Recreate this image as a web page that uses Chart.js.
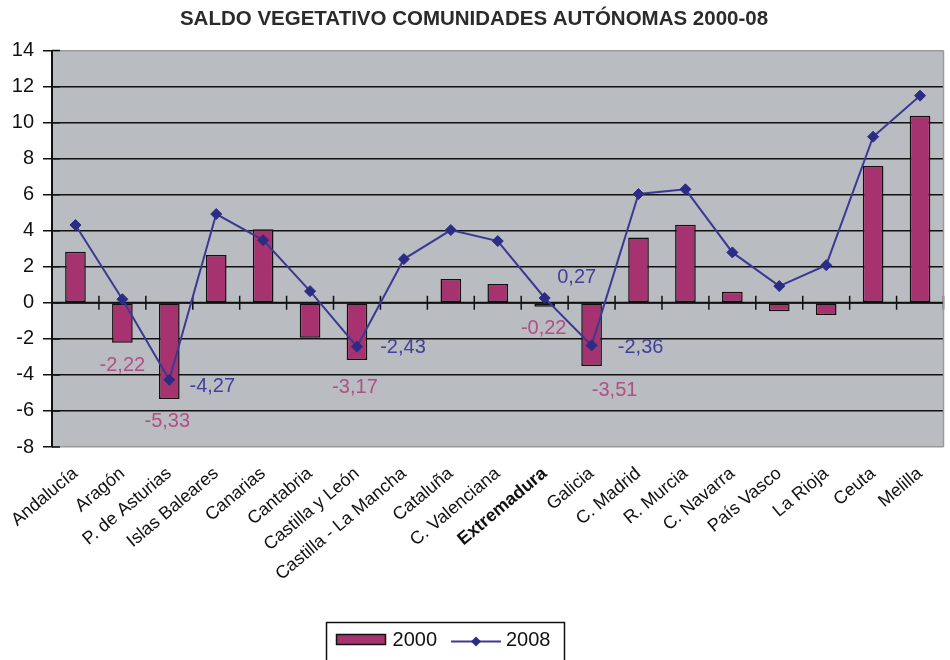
<!DOCTYPE html>
<html>
<head>
<meta charset="utf-8">
<title>Saldo vegetativo CCAA 2000-08</title>
<script src="https://cdn.jsdelivr.net/npm/chart.js@4.4.0/dist/chart.umd.min.js"></script>
<style>
  body { margin: 0; background: #fff; }
  canvas { display: block; }
</style>
</head>
<body>
<canvas id="saldo" width="950" height="660"></canvas>
<script>
// Data
const regions = ['Andalucía', 'Aragón', 'P. de Asturias', 'Islas Baleares', 'Canarias', 'Cantabria',
  'Castilla y León', 'Castilla - La Mancha', 'Cataluña', 'C. Valenciana', 'Extremadura', 'Galicia',
  'C. Madrid', 'R. Murcia', 'C. Navarra', 'País Vasco', 'La Rioja', 'Ceuta', 'Melilla'];
const values2000 = [2.83, -2.22, -5.33, 2.65, 4.09, -1.94, -3.17, 0, 1.32, 1.04, -0.22, -3.51,
  3.63, 4.33, 0.61, -0.46, -0.68, 7.59, 10.39];
const values2008 = [4.32, 0.2, -4.27, 4.93, 3.48, 0.65, -2.43, 2.43, 4.04, 3.43, 0.27, -2.36,
  6.04, 6.3, 2.8, 0.93, 2.09, 9.22, 11.5];
const seriesNames = ['2000', '2008'];
const yMin = -8;
const yMax = 14;
const yStep = 2;
const boldRegion = 'Extremadura';

const sans = '"Liberation Sans", Arial, sans-serif';
const narrow = '"Liberation Sans Narrow", "Arial Narrow", "Liberation Sans", sans-serif';

const barColor = '#a6336f';
const lineColor = '#3a3a93';

// grey plot background + grey right border
const plotBackground = {
  id: 'plotBackground',
  beforeDraw(chart) {
    const { ctx, chartArea: a } = chart;
    ctx.save();
    ctx.fillStyle = '#b9bcc0';
    ctx.fillRect(a.left, a.top, a.right - a.left, a.bottom - a.top);
    ctx.restore();
  },
  afterDraw(chart) {
    const { ctx, chartArea: a } = chart;
    ctx.save();
    ctx.strokeStyle = '#9a9a9a';
    ctx.lineWidth = 1.5;
    ctx.beginPath();
    ctx.moveTo(a.right, a.top);
    ctx.lineTo(a.right, a.bottom);
    ctx.stroke();
    ctx.restore();
  }
};

// zero line with cross ticks between categories, and inner y ticks
const zeroAxis = {
  id: 'zeroAxis',
  beforeDatasetsDraw(chart) {
    const { ctx, chartArea: a, scales } = chart;
    const x = scales.x, y = scales.y;
    const y0 = y.getPixelForValue(0);
    ctx.save();
    ctx.strokeStyle = '#111';
    ctx.lineWidth = 2;
    ctx.beginPath();
    ctx.moveTo(a.left, y0);
    ctx.lineTo(a.right, y0);
    ctx.stroke();
    ctx.lineWidth = 1.5;
    ctx.beginPath();
    for (let i = 1; i <= regions.length; i++) {
      const bx = (x.getPixelForValue(i - 1) + x.getPixelForValue(i)) / 2;
      const px = i === regions.length ? a.right : bx;
      ctx.moveTo(px, y0 - 7);
      ctx.lineTo(px, y0 + 7);
    }
    y.ticks.forEach((t) => {
      const py = y.getPixelForValue(t.value);
      ctx.moveTo(a.left, py);
      ctx.lineTo(a.left + 8, py);
    });
    ctx.stroke();
    ctx.restore();
  }
};

// value labels for a few points only
const valueLabels = {
  id: 'valueLabels',
  afterDatasetsDraw(chart, args, opts) {
    const ctx = chart.ctx;
    ctx.save();
    ctx.font = '20px ' + sans;
    ctx.textAlign = 'center';
    ctx.textBaseline = 'middle';
    opts.sets.forEach((set, di) => {
      const meta = chart.getDatasetMeta(di);
      const data = chart.data.datasets[di].data;
      ctx.fillStyle = set.color;
      Object.keys(set.place).forEach((k) => {
        const el = meta.data[k];
        const [dx, dy] = set.place[k];
        const txt = data[k].toFixed(2).replace('.', ',');
        ctx.fillText(txt, el.x + dx, el.y + dy);
      });
    });
    ctx.restore();
  }
};

// boxed legend at the bottom
const boxLegend = {
  id: 'boxLegend',
  afterDraw(chart, args, opts) {
    const ctx = chart.ctx;
    const [bar, line] = chart.data.datasets;
    ctx.save();
    ctx.font = '20px ' + sans;
    const w1 = ctx.measureText(bar.label).width;
    const w2 = ctx.measureText(line.label).width;
    const total = 10 + 49 + 7 + w1 + 14 + 50 + 5 + w2 + 14;
    let x = opts.centerX - total / 2;
    const top = opts.top;
    const mid = top + 17;
    ctx.strokeStyle = '#111';
    ctx.lineWidth = 1.5;
    ctx.strokeRect(x, top, total, 60);
    x += 10;
    ctx.fillStyle = bar.backgroundColor;
    ctx.fillRect(x, mid - 5, 49, 10);
    ctx.strokeRect(x, mid - 5, 49, 10);
    x += 49 + 7;
    ctx.fillStyle = '#111';
    ctx.textBaseline = 'middle';
    ctx.fillText(bar.label, x, mid + 1);
    x += w1 + 14;
    ctx.strokeStyle = line.borderColor;
    ctx.lineWidth = 2;
    ctx.beginPath();
    ctx.moveTo(x, mid + 2);
    ctx.lineTo(x + 50, mid + 2);
    ctx.stroke();
    ctx.fillStyle = line.pointBackgroundColor;
    ctx.beginPath();
    ctx.moveTo(x + 25, mid + 2 - 5);
    ctx.lineTo(x + 30, mid + 2);
    ctx.lineTo(x + 25, mid + 2 + 5);
    ctx.lineTo(x + 20, mid + 2);
    ctx.closePath();
    ctx.fill();
    x += 50 + 5;
    ctx.fillStyle = '#111';
    ctx.fillText(line.label, x, mid + 1);
    ctx.restore();
  }
};

new Chart(document.querySelector('#saldo'), {
  data: {
    labels: regions,
    datasets: [
      {
        type: 'bar',
        label: seriesNames[0],
        data: values2000,
        backgroundColor: barColor,
        borderColor: '#111',
        borderWidth: 1.5,
        borderSkipped: false,
        barPercentage: 0.44,
        categoryPercentage: 1,
        order: 2
      },
      {
        type: 'line',
        label: seriesNames[1],
        data: values2008,
        borderColor: lineColor,
        borderWidth: 2,
        tension: 0,
        pointStyle: 'rectRot',
        pointRadius: 5.5,
        pointBackgroundColor: '#2c2c84',
        pointBorderColor: '#2c2c84',
        pointBorderWidth: 1,
        order: 1
      }
    ]
  },
  options: {
    responsive: false,
    animation: false,
    devicePixelRatio: 1,
    layout: { padding: { left: 0, right: 2, top: 0, bottom: 0 } },
    scales: {
      x: {
        offset: true,
        grid: { display: false },
        border: { display: false },
        ticks: {
          autoSkip: false,
          minRotation: 40,
          maxRotation: 40,
          padding: 8,
          color: '#111',
          font: (c) => ({
            family: narrow,
            size: 18,
            weight: c.tick && c.tick.label === boldRegion ? 'bold' : 'normal'
          })
        },
        afterFit: (s) => { s.height = 213; }
      },
      y: {
        min: yMin,
        max: yMax,
        border: { display: true, color: '#111', width: 2 },
        grid: {
          color: (c) => (c.tick.value === yMin || c.tick.value === yMax) ? '#9a9a9a' : '#111',
          tickColor: '#111',
          lineWidth: 1.5,
          tickLength: 9
        },
        ticks: {
          stepSize: yStep,
          padding: 9,
          color: '#111',
          font: { family: sans, size: 20 }
        },
        afterFit: (s) => { s.width = 52; }
      }
    },
    plugins: {
      legend: { display: false },
      tooltip: { enabled: false },
      title: {
        display: true,
        text: 'SALDO VEGETATIVO COMUNIDADES AUTÓNOMAS 2000-08',
        color: '#2b2b2b',
        font: { family: sans, size: 20.5, weight: 'bold' },
        padding: { top: 7, bottom: 19 }
      },
      valueLabels: {
        sets: [
          { color: '#b24f83', place: { 1: [0, 23], 2: [-2, 23], 6: [-2, 28], 10: [-1, 22], 11: [23, 24] } },
          { color: '#41419a', place: { 2: [43, 7], 6: [46, 1], 10: [32, -21], 11: [49, 2] } }
        ]
      },
      boxLegend: { centerX: 445.5, top: 622.5 }
    }
  },
  plugins: [plotBackground, zeroAxis, valueLabels, boxLegend]
});
</script>
</body>
</html>
